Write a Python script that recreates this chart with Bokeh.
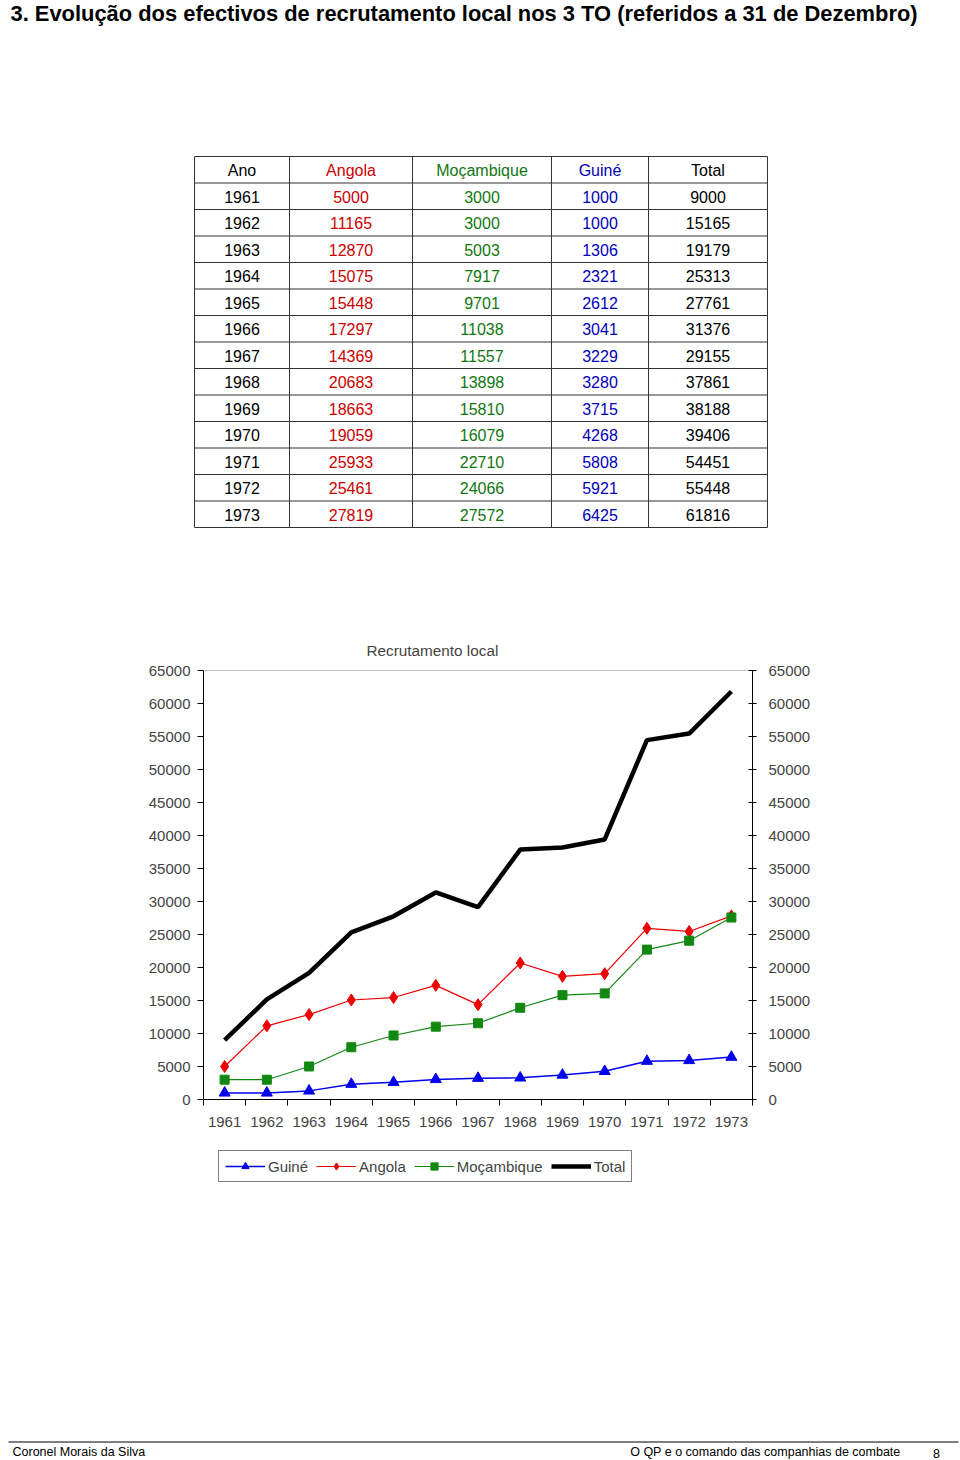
from bokeh.plotting import figure
from bokeh.layouts import column
from bokeh.models import (Range1d, LinearAxis, FixedTicker, Legend, LegendItem,
                          ColumnDataSource)
from bokeh.core.properties import value
from bokeh.embed import file_html
from bokeh.resources import INLINE

# ---------------- data ----------------
years = [1961, 1962, 1963, 1964, 1965, 1966, 1967, 1968, 1969, 1970, 1971, 1972, 1973]
angola = [5000, 11165, 12870, 15075, 15448, 17297, 14369, 20683, 18663, 19059, 25933, 25461, 27819]
mocambique = [3000, 3000, 5003, 7917, 9701, 11038, 11557, 13898, 15810, 16079, 22710, 24066, 27572]
guine = [1000, 1000, 1306, 2321, 2612, 3041, 3229, 3280, 3715, 4268, 5808, 5921, 6425]
total = [9000, 15165, 19179, 25313, 27761, 31376, 29155, 37861, 38188, 39406, 54451, 55448, 61816]
headers = ["Ano", "Angola", "Moçambique", "Guiné", "Total"]
series_names = ["Guiné", "Angola", "Moçambique", "Total"]
y_ticks = list(range(0, 65001, 5000))

page_title = "3. Evolução dos efectivos de recrutamento local nos 3 TO (referidos a 31 de Dezembro)"
chart_title = "Recrutamento local"
footer_left = "Coronel Morais da Silva"
footer_right = "O QP e o comando das companhias de combate"
page_no = "8"

SANS = "Liberation Sans"
VSANS = value(SANS)

C_RED_T, C_GRN_T, C_BLU_T = "#cc0000", "#117711", "#0000bb"
C_RED, C_GRN, C_BLU = "#ee0000", "#118811", "#0000ee"

# series styles: (color, marker, marker size, line width)
styles = {
    "Guiné": (C_BLU, "triangle", 11, 1.5),
    "Angola": (C_RED, "diamond", 12, 1.2),
    "Moçambique": (C_GRN, "square", 9, 1.2),
    "Total": ("black", None, 0, 4.5),
}

W = 960

def blank(h, y0, y1):
    f = figure(width=W, height=h, x_range=Range1d(0, W), y_range=Range1d(y1, y0),
               output_backend="svg", toolbar_location=None, min_border=0)
    f.axis.visible = False
    f.grid.visible = False
    f.outline_line_color = None
    f.frame_align = False
    return f

# ---------------- top: title + table ----------------
TOP_H = 608
top = blank(TOP_H, 0, TOP_H)
top.text(x=[10], y=[13], text=[page_title], text_font=VSANS, text_font_style="bold",
         text_font_size="21.9px", text_baseline="middle", text_align="left", text_color="black")

col_edges = [194, 289, 412, 551, 648, 767]
tbl_top, row_h = 156, 26.5
nrows = len(years) + 1
tbl_bottom = tbl_top + row_h * nrows
hy = [tbl_top + row_h * i for i in range(nrows + 1)]
top.segment(x0=[col_edges[0]] * len(hy), x1=[col_edges[-1]] * len(hy), y0=hy, y1=hy,
            line_color="#333333", line_width=1)
top.segment(x0=col_edges, x1=col_edges, y0=[tbl_top] * len(col_edges),
            y1=[tbl_bottom] * len(col_edges), line_color="#333333", line_width=1)
centers = [(col_edges[i] + col_edges[i + 1]) / 2 for i in range(5)]
colors = ["black", C_RED_T, C_GRN_T, C_BLU_T, "black"]
columns_vals = [years, angola, mocambique, guine, total]
for ci in range(5):
    texts = [headers[ci]] + [str(v) for v in columns_vals[ci]]
    ys = [tbl_top + row_h * (i + 0.5) + 0.5 for i in range(nrows)]
    top.text(x=[centers[ci]] * nrows, y=ys, text=texts, text_font=VSANS,
             text_font_size="16px", text_align="center", text_baseline="middle",
             text_color=colors[ci])

# ---------------- chart ----------------
CH_Y0 = TOP_H
CH_H = 532
frame_left, frame_right, frame_top, frame_bottom = 203, 752, 670, 1099
p = figure(width=W, height=CH_H, x_range=Range1d(1960.5, 1973.5), y_range=Range1d(0, 65000),
           output_backend="svg", toolbar_location=None,
           min_border_left=frame_left, min_border_right=W - frame_right,
           min_border_top=frame_top - CH_Y0, min_border_bottom=CH_Y0 + CH_H - frame_bottom,
           y_axis_location=None, x_axis_location=None)
p.frame_align = False
p.grid.visible = False
p.outline_line_color = None
p.title.text = chart_title
p.title.text_font = SANS
p.title.text_font_size = "15.3px"
p.title.text_font_style = "normal"
p.title.align = "left"
p.title.offset = 163
p.title.standoff = 24

# top border line of plot area
p.line(x=[1960.5, 1973.5], y=[65000, 65000], line_color="#888888", line_width=1)

ax_b = LinearAxis(ticker=FixedTicker(ticks=years, minor_ticks=[y - 0.5 for y in years] + [1973.5]),
                  major_label_overrides={y: str(y) for y in years})
ax_b.major_tick_out = 0
ax_b.major_tick_in = 0
ax_b.minor_tick_out = 6
ax_b.minor_tick_in = 0
ax_b.axis_line_color = "black"
ax_b.major_label_standoff = 11
ax_b.major_label_text_font = SANS
ax_b.major_label_text_font_size = "15px"
p.add_layout(ax_b, "below")

for side in ("left", "right"):
    ax = LinearAxis(ticker=FixedTicker(ticks=y_ticks))
    ax.axis_line_color = "black"
    ax.major_tick_line_color = "black"
    ax.minor_tick_line_color = None
    ax.major_label_text_font = SANS
    ax.major_label_text_font_size = "15px"
    ax.formatter.use_scientific = False
    if side == "left":
        ax.major_tick_out, ax.major_tick_in = 6, 0
        ax.major_label_standoff = 7
    else:
        ax.major_tick_out, ax.major_tick_in = 4, 4
        ax.major_label_standoff = 12
    p.add_layout(ax, side)

src = ColumnDataSource(dict(year=years, Guiné=guine, Angola=angola, Moçambique=mocambique,
                            Total=total))
for name in series_names:
    col, mk, ms, lw = styles[name]
    p.line("year", name, source=src, line_color=col, line_width=lw)
    if mk:
        p.scatter("year", name, source=src, marker=mk, size=ms, color=col)

# ---------------- legend + footer ----------------
FT_Y0 = CH_Y0 + CH_H
FT_H = 1460 - FT_Y0
foot = blank(FT_H, FT_Y0, FT_Y0 + FT_H)

# legend entries: same series & styles (their data lie outside this panel's view,
# so only the legend samples are visible here)
items = []
for name in series_names:
    col, mk, ms, lw = styles[name]
    rs = [foot.line("year", name, source=src, line_color=col, line_width=lw)]
    if mk:
        rs.append(foot.scatter("year", name, source=src, marker=mk, size=ms, color=col))
    items.append(LegendItem(label=name, renderers=rs))
legend = Legend(items=items, orientation="horizontal", location=(218, 1460 - 1152 - 30))
legend.glyph_width = 40
legend.glyph_height = 18
legend.label_standoff = 3
legend.spacing = 8
legend.padding = 6
legend.margin = 0
legend.label_text_font = SANS
legend.label_text_font_size = "15px"
legend.border_line_color = "black"
legend.border_line_width = 1
legend.label_height = 18
foot.add_layout(legend)

foot.segment(x0=[8], x1=[958], y0=[1441.5], y1=[1441.5], line_color="black", line_width=1.2)
foot.text(x=[12], y=[1451], text=[footer_left], text_font=VSANS, text_font_size="12.5px",
          text_baseline="middle", text_align="left")
foot.text(x=[900], y=[1451], text=[footer_right], text_font=VSANS, text_font_size="12.5px",
          text_baseline="middle", text_align="right")
foot.text(x=[936], y=[1453], text=[page_no], text_font=VSANS, text_font_size="12.5px",
          text_baseline="middle", text_align="center")

layout = column(top, p, foot, spacing=0)
open("out.html", "w").write(file_html(layout, INLINE))
